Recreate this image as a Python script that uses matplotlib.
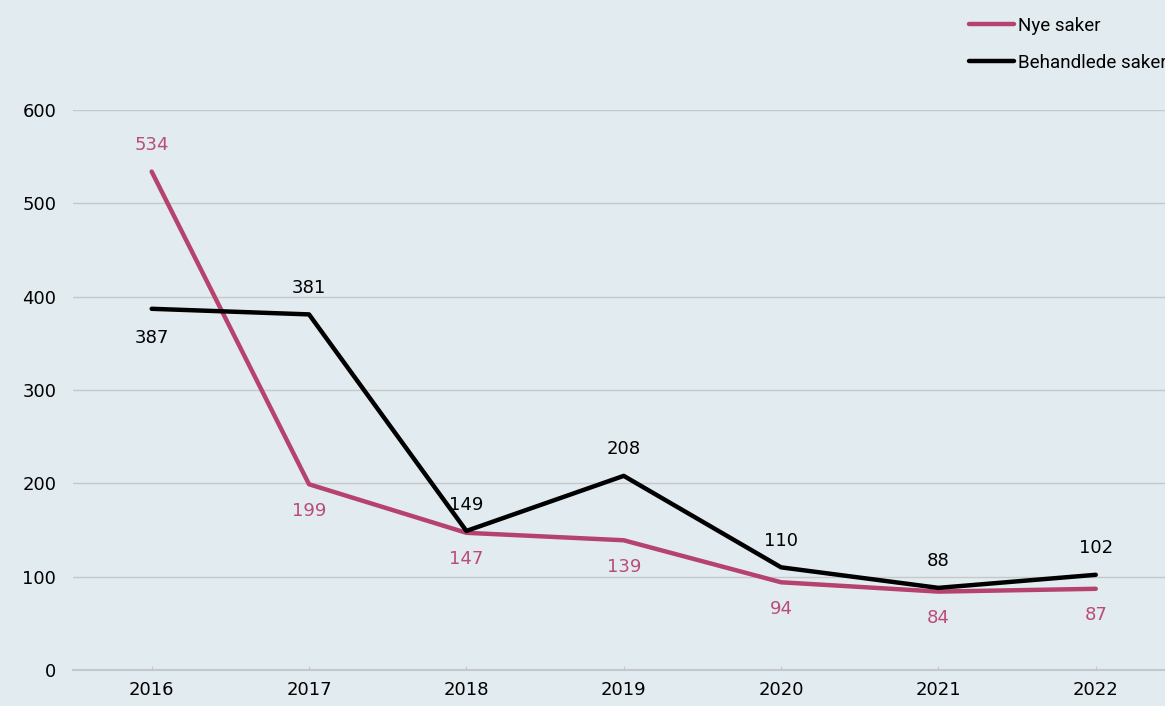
import matplotlib.pyplot as plt

years = ['2016', '2017', '2018', '2019', '2020', '2021', '2022']
nye = [534, 199, 147, 139, 94, 84, 87]
behandlede = [387, 381, 149, 208, 110, 88, 102]

bg = '#e2ecf0'
pink = '#b5426f'
pink_txt = '#b94c7a'

plt.rcParams['font.family'] = ['DejaVu Sans']
fig = plt.figure(figsize=(11.65, 7.06), dpi=100, facecolor=bg)
ax = fig.add_axes([73 / 1165, 36 / 706, 1092 / 1165, 560 / 706], facecolor=bg)

x = list(range(len(years)))
ax.plot(x, nye, color=pink, lw=3.2, label='Nye saker', solid_capstyle='round')
ax.plot(x, behandlede, color='black', lw=3.2, label='Behandlede saker', solid_capstyle='round')

for i, v in enumerate(nye):
    off = 19 if i == 0 else -19
    ax.annotate(str(v), (i, v), xytext=(0, off), textcoords='offset points',
                ha='center', va='center', color=pink_txt, fontsize=13)
for i, v in enumerate(behandlede):
    off = -21 if i == 0 else 19
    ax.annotate(str(v), (i, v), xytext=(0, off), textcoords='offset points',
                ha='center', va='center', color='black', fontsize=13)

ax.set_xlim(-0.5, 6.44)
ax.set_ylim(0, 600)
ax.set_yticks([0, 100, 200, 300, 400, 500, 600])
ax.set_xticks(x)
ax.set_xticklabels(years)
ax.yaxis.grid(True, color='#c4c8cb', lw=1)
ax.set_axisbelow(True)
for s in ['top', 'right', 'left']:
    ax.spines[s].set_visible(False)
ax.spines['bottom'].set_color('#c4c8cb')
ax.spines['bottom'].set_linewidth(1.5)
ax.tick_params(axis='y', length=0, labelsize=13, pad=12)
ax.tick_params(axis='x', direction='in', length=3, color='#c4c8cb', labelsize=13, pad=8)

fig.legend(loc='upper left', bbox_to_anchor=(952 / 1165, 1.0), frameon=False,
           prop={'family': ['Roboto', 'DejaVu Sans'], 'size': 13.5},
           handlelength=2.4, handletextpad=0.2, labelspacing=1.0)

fig.savefig('out.png', dpi=100, facecolor=bg)
